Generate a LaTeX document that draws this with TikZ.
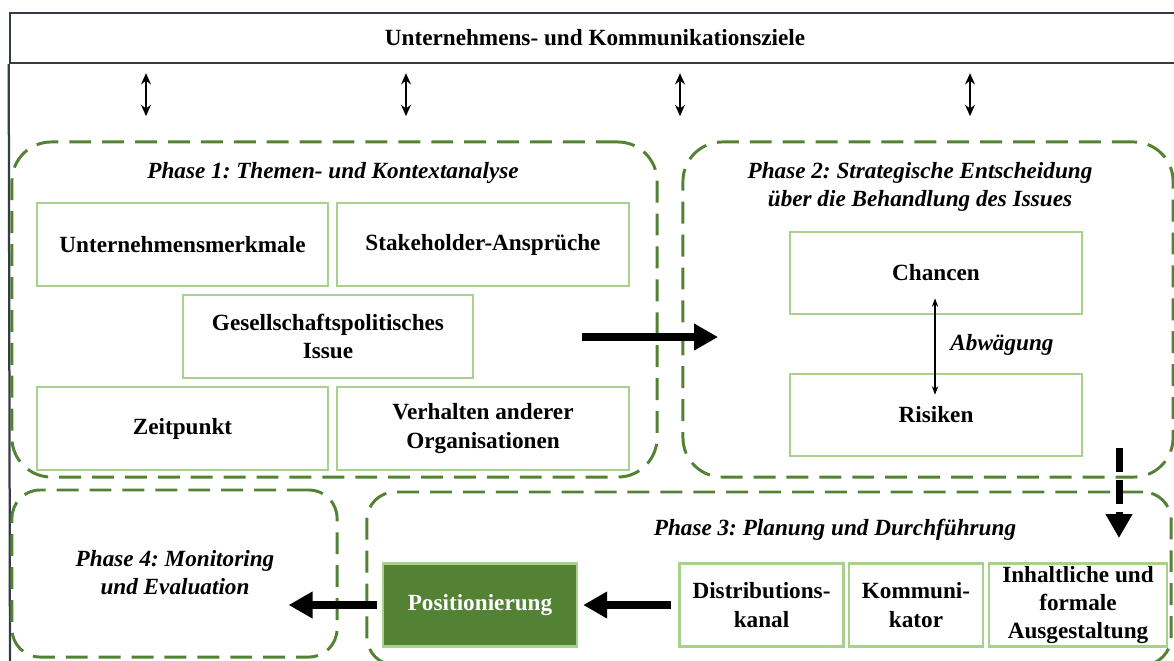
\documentclass[tikz,border=0pt]{standalone}
\usepackage{fontspec}
\setmainfont{Liberation Serif}
\usepackage{tikz}
\usetikzlibrary{arrows.meta, positioning}
\definecolor{phasegreen}{RGB}{84,130,53}
\definecolor{boxgreen}{RGB}{169,209,142}
\definecolor{framegray}{RGB}{52,60,72}
\tikzstyle{phase} = [rectangle, draw=phasegreen, line width=2.1pt, dash pattern=on 15.6pt off 7.8pt, rounded corners=20pt]
\tikzstyle{phase-title} = [font=\bfseries\itshape, align=center]
\tikzstyle{simple-rect} = [rectangle, draw=boxgreen, line width=1.8pt, text centered, align=center, font=\bfseries]
\tikzstyle{arrow-small} = [line width=1.4pt, {Stealth[length=8pt,width=7pt]}-{Stealth[length=8pt,width=7pt]}]
\tikzstyle{arrow-tiny} = [line width=0.8pt, {Stealth[length=6pt,width=4.5pt]}-{Stealth[length=6pt,width=4.5pt]}]
\tikzstyle{arrow-big} = [line width=5.7pt, -{Triangle[length=17pt,width=18pt]}]

\begin{document}
\fontsize{16.5}{20}\selectfont\frenchspacing
\begin{tikzpicture}[x=0.025cm, y=-0.025cm]
        \useasboundingbox (0,0) rectangle (1174,660);

        % goals bar and frame
        \node [draw=framegray, line width=1.6pt, minimum width=29.25cm, minimum height=1.25cm, font=\bfseries] (goals) at (595,38) {Unternehmens- und Kommunikationsziele};
        \draw [framegray, line width=1.6pt] (goals.south west) -- (10,665);
        \foreach \x in {146,406,680,970}
            \draw [arrow-small] (goals.south -| \x,0) ++(0,9) -- ++(0,43);

        % phases
        \node [phase, rounded corners=28pt, minimum width=16.125cm, minimum height=8.375cm] (phase1) at (334.5,309.5) {};
        \node [phase, rounded corners=28pt, minimum width=12.25cm, minimum height=8.375cm] (phase2) at (928,309.5) {};
        \node [phase, minimum width=20.1cm, minimum height=4.325cm] (phase3) at (769,578.5) {};
        \node [phase, minimum width=8.125cm, minimum height=4.175cm] (phase4) at (174.5,573.5) {};

        \node [phase-title] (title1) at (333,173) {Phase 1: Themen- und Kontextanalyse};
        \node [phase-title] (title2) at (920,187) {Phase 2: Strategische Entscheidung\\über die Behandlung des Issues};
        \node [phase-title] (title3) at (835,530) {Phase 3: Planung und Durchführung};
        \node [phase-title] (title4) at (175,573) {Phase 4: Monitoring\\und Evaluation};

        % phase 1
        \node [simple-rect, minimum width=7.275cm, minimum height=2.075cm] (features) at (182.5,244.5) {Unternehmensmerkmale};
        \node [simple-rect, minimum width=7.3cm, minimum height=2.075cm] (claims) at (483,244.5) {Stakeholder-Ansprüche};
        \node [simple-rect, minimum width=7.25cm, minimum height=2.075cm] (issue) at (328,336.5) {Gesellschaftspolitisches\\Issue};
        \node [simple-rect, minimum width=7.275cm, minimum height=2.075cm] (timing) at (182.5,428.5) {Zeitpunkt};
        \node [simple-rect, minimum width=7.3cm, minimum height=2.075cm] (others) at (483,428.5) {Verhalten anderer\\Organisationen};

        % phase 2
        \node [simple-rect, minimum width=7.3cm, minimum height=2.05cm] (chances) at (936,273) {Chancen};
        \node [simple-rect, minimum width=7.3cm, minimum height=2.05cm] (risks) at (936,415) {Risiken};
        \draw [arrow-tiny] ([xshift=-0.7pt, yshift=12pt]chances.south) -- ([xshift=-0.7pt, yshift=-15.6pt]risks.north);
        \node [phase-title] (weighing) at (1002,345) {Abwägung};

        % phase 3
        \node [simple-rect, fill=phasegreen, text=white, minimum width=4.85cm, minimum height=2.075cm] (position) at (480,605) {Positionierung};
        \node [simple-rect, minimum width=4.1cm, minimum height=2.075cm] (channel) at (761.5,605) {Distributions-\\kanal};
        \node [simple-rect, minimum width=3.35cm, minimum height=2.075cm] (sender) at (916,605) {Kommuni-\\kator};
        \node [simple-rect, inner ysep=0.5pt, minimum width=4.45cm, minimum height=2.075cm] (content) at (1078,605) {Inhaltliche und\\formale\\Ausgestaltung};

        % flow
        \coordinate (p1-out) at (582,337);
        \coordinate (p2-in) at (718,337);
        \draw [arrow-big] (p1-out) -- (p2-in);

        \coordinate (p2-out) at (1119,448);
        \coordinate (p3-in) at (1119,538);
        \draw [arrow-big, line width=5pt, dash pattern=on 17pt off 5.7pt] (p2-out) -- (p3-in);

        \draw [arrow-big] ([xshift=-5pt]channel.west) -- ([xshift=3.5pt]position.east);
        \draw [arrow-big] ([xshift=-3.5pt]position.west) -- ([xshift=-35.5pt]position.west -| phase4.east);
\end{tikzpicture}
\end{document}
